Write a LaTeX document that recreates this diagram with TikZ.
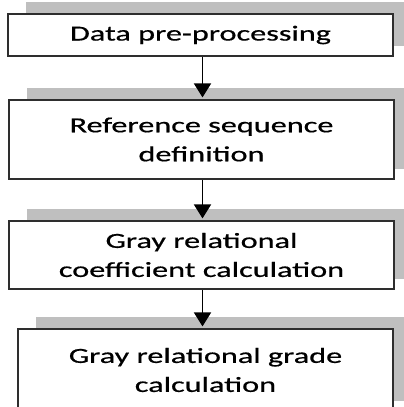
\documentclass[tikz,border=0pt]{standalone}
\usepackage{fontspec}
\setmainfont[FakeStretch=1.5,FakeBold=0.6]{Carlito}
\usetikzlibrary{arrows.meta,backgrounds}
\definecolor{shadowc}{HTML}{BFBFBF}
\definecolor{edgec}{HTML}{2E2E2E}
\tikzset{
  x=1pt, y=-1pt,
  stepbox/.style={draw=edgec, line width=2.2pt, fill=white, inner sep=0pt,
    align=center, minimum width=385pt,
    font=\fontsize{21.5}{29}\selectfont},
  flowarrow/.style={draw=black, line width=1.9pt,
    -{Triangle[length=14pt,width=17pt]}, shorten >=1.5pt}
}
\begin{document}
\begin{tikzpicture}
\useasboundingbox (0,0) rectangle (404,407);
\clip (0,0) rectangle (404,407);
\node[stepbox, minimum height=42pt] (b1) at (200.5,35) {Data pre-processing};
\node[stepbox, minimum height=79pt] (b2) at (201.5,139.5) {Reference sequence\\definition};
\node[stepbox, minimum height=68pt] (b3) at (201.5,255) {Gray relational\\coefficient calculation};
\node[stepbox, minimum height=82pt, minimum width=375pt] (b4) at (205.5,370) {Gray relational grade\\calculation};
\begin{scope}[on background layer]
  \foreach \b in {b1,b2,b3,b4}{
    \fill[shadowc] ([shift={(19,-11)}]\b.south west) rectangle ([shift={(19,-11)}]\b.north east);
  }
\end{scope}
\coordinate (ax) at (202.5,0);
\draw[flowarrow] (b1.south -| ax) -- (b2.north -| ax);
\draw[flowarrow] (b2.south -| ax) -- (b3.north -| ax);
\draw[flowarrow] (b3.south -| ax) -- (b4.north -| ax);
\end{tikzpicture}
\end{document}
